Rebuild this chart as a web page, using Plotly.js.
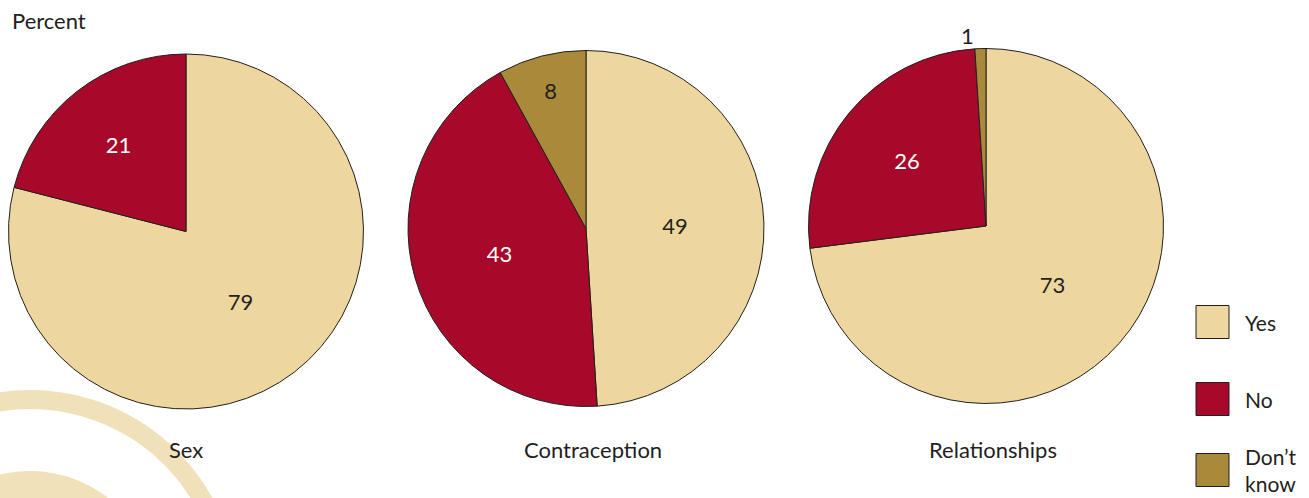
<!DOCTYPE html>
<html>
<head>
<meta charset="utf-8">
<script src="https://cdn.plot.ly/plotly-3.0.1.min.js"></script>
<style>
  html, body { margin: 0; padding: 0; background: #ffffff; }
  #chart { width: 1309px; height: 498px; }
</style>
</head>
<body>
<div id="chart"></div>
<script>
// ---- data ----
const categories = ["Sex", "Contraception", "Relationships"];
const responses = ["Yes", "No", "Don\u2019t know"];
const sexValues = [79, 21, 0];
const contraceptionValues = [49, 43, 8];
const relationshipsValues = [73, 26, 1];
const yAxisLabel = "Percent";

// ---- styles ----
const FONT = "Lato, 'Open Sans', sans-serif";
const TEXT_COLOR = "#231f20";
const sliceColors = ["#eed79e", "#a6092a", "#a88a3a"];
const ringColor = "#f0e1ba";
const W = 1309, H = 498;

// pie boxes in pixels: [cx, cy, r]
const boxes = [[186, 231.5, 177.5], [586, 228.5, 178], [986, 226, 177.5]];
const seriesValues = [sexValues, contraceptionValues, relationshipsValues];

function domainFor(b) {
  const [cx, cy, r] = b;
  return {
    x: [(cx - r) / W, (cx + r) / W],
    y: [1 - (cy + r) / H, 1 - (cy - r) / H]
  };
}

const traces = seriesValues.map((vals, i) => {
  const idx = vals.map((v, k) => k).filter(k => vals[k] > 0);
  const v = idx.map(k => vals[k]);
  const positions = idx.map(k => (vals[k] < 3 ? "outside" : "inside"));
  return {
    type: "pie",
    labels: idx.map(k => responses[k]),
    values: v,
    sort: false,
    direction: "clockwise",
    rotation: 0,
    domain: domainFor(boxes[i]),
    marker: { colors: idx.map(k => sliceColors[k]), line: { color: TEXT_COLOR, width: 1 } },
    textinfo: "value",
    textposition: positions,
    insidetextorientation: "horizontal",
    insidetextfont: { family: FONT, size: 22, color: idx.map(k => (k === 1 ? "#ffffff" : TEXT_COLOR)) },
    outsidetextfont: { family: FONT, size: 22, color: TEXT_COLOR },
    hoverinfo: "label+value",
    showlegend: false
  };
});

const annotations = [];
const shapes = [];

// decorative rings (lower left)
const ringCenter = [30, -100]; // pixels from paper left / bottom
[[208, ringColor], [189, "#ffffff"], [127, ringColor], [92, "#ffffff"]].forEach(([r, c]) => {
  shapes.push({
    type: "circle", xref: "paper", yref: "paper", layer: "below",
    xsizemode: "pixel", ysizemode: "pixel", xanchor: 0, yanchor: 0,
    x0: ringCenter[0] - r, x1: ringCenter[0] + r,
    y0: ringCenter[1] - r, y1: ringCenter[1] + r,
    fillcolor: c, line: { width: 0 }
  });
});

// category labels below pies
categories.forEach((c, i) => {
  annotations.push({
    text: c, xref: "paper", yref: "paper",
    x: boxes[i][0] / W + (i === 0 ? 0 : 0.005), y: 1 - 449 / H,
    xanchor: "center", yanchor: "middle", showarrow: false,
    font: { family: FONT, size: 22, color: TEXT_COLOR }
  });
});

// "Percent"
annotations.push({
  text: yAxisLabel, xref: "paper", yref: "paper",
  x: 10 / W, y: 1 - 20 / H, xanchor: "left", yanchor: "middle", showarrow: false,
  font: { family: FONT, size: 22, color: TEXT_COLOR }
});

// legend
const legendY = [322, 399, 470];
responses.forEach((r, k) => {
  const yc = legendY[k];
  shapes.push({
    type: "rect", xref: "paper", yref: "paper",
    x0: 1196 / W, x1: 1229 / W, y0: 1 - (yc + 16.5) / H, y1: 1 - (yc - 16.5) / H,
    fillcolor: sliceColors[k], line: { color: TEXT_COLOR, width: 1 }
  });
  annotations.push({
    text: r.replace(" ", "<br>"), xref: "paper", yref: "paper",
    x: 1243 / W, y: 1 - yc / H, xanchor: "left", yanchor: "middle", align: "left",
    showarrow: false,
    font: { family: FONT, size: 21, color: TEXT_COLOR }
  });
});

const layout = {
  width: W, height: H,
  margin: { l: 0, r: 0, t: 0, b: 0 },
  paper_bgcolor: "#ffffff",
  plot_bgcolor: "#ffffff",
  showlegend: false,
  shapes: shapes,
  annotations: annotations,
  font: { family: FONT, color: TEXT_COLOR }
};

Plotly.newPlot("chart", traces, layout, { displayModeBar: false, staticPlot: true });
</script>
</body>
</html>
